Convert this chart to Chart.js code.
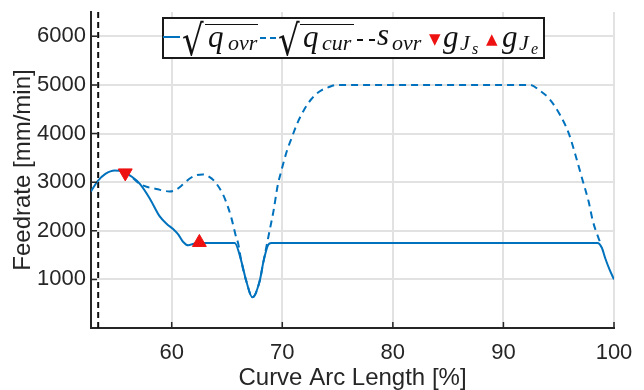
<!DOCTYPE html>
<html>
<head>
<meta charset="utf-8">
<title>Feedrate</title>
<script src="https://cdn.jsdelivr.net/npm/chart.js@4.4.1/dist/chart.umd.min.js"></script>
<style>
    body { margin: 0; background: #fff; }
    #wrap { position: relative; width: 644px; height: 390px; }
    #legend { position: absolute; left: 162px; top: 17px; width: 379px; height: 38px; border: 2px solid #1a1a1a; background: #fff; }
    #legend span, #legend div { position: absolute; }
    .m { font-family: "Liberation Serif", serif; font-style: italic; color: #111; line-height: 1; white-space: nowrap; }
    .big { font-size: 31px; }
    .sub { font-size: 22px; }
    .sub2 { font-size: 16px; }
    .rad { font-family: "DejaVu Sans", sans-serif; font-size: 34px; line-height: 1; color: #111; transform: scaleY(1.25); transform-origin: 50% 10%; }
    .bar { border-top: 1.5px solid #111; height: 0; }
    .tri { color: #ee1111; font-family: "DejaVu Sans", sans-serif; font-size: 15px; line-height: 1; }
</style>
</head>
<body>
<div id="wrap">
    <canvas id="grafica" width="644" height="390"></canvas>
    <div id="legend">
        <!-- offsets are relative to the box inner edge (x 164, y 19) -->
        <div style="left:-1px;top:17px;width:17px;border-top:2px solid #0072bd;"></div>
        <span class="rad" style="left:18px;top:1px;">√</span>
        <div class="bar" style="left:41px;top:5px;width:53px;"></div>
        <span class="m big" style="left:44px;top:2px;">q</span>
        <span class="m sub" style="left:64px;top:13px;">ovr</span>

        <div style="left:96px;top:18px;width:16px;border-top:2px dashed #0072bd;"></div>
        <span class="rad" style="left:114px;top:1px;">√</span>
        <div class="bar" style="left:136px;top:5px;width:54px;"></div>
        <span class="m big" style="left:139px;top:2px;">q</span>
        <span class="m sub" style="left:158px;top:13px;">cur</span>

        <div style="left:193px;top:20px;width:18px;border-top:2px dashed #111;"></div>
        <span class="m big" style="left:213px;top:0px;">s</span>
        <span class="m sub" style="left:228px;top:13px;">ovr</span>

        <span class="tri" style="left:265px;top:13px;">▼</span>
        <span class="m big" style="left:279px;top:2px;">g</span>
        <span class="m sub" style="left:296px;top:13px;">J</span>
        <span class="m sub2" style="left:308px;top:22px;">s</span>

        <span class="tri" style="left:322px;top:13px;">▲</span>
        <span class="m big" style="left:338px;top:2px;">g</span>
        <span class="m sub" style="left:355px;top:13px;">J</span>
        <span class="m sub2" style="left:367px;top:22px;">e</span>
    </div>
</div>

<script>
    // sqrt(q_ovr) - solid
    var ovrX = [52.7, 53.3, 54.0, 54.85, 55.6, 56.4, 57.1, 58.0, 58.9, 59.6, 60.1, 60.6, 61.0, 61.5, 62.0, 62.5,
                65.7, 66.3, 66.75, 67.3, 67.95, 68.3, 68.7, 69.0, 98.5, 98.9, 99.2, 99.6, 100];
    var ovrY = [2810, 3020, 3170, 3240, 3215, 3110, 2970, 2670, 2300, 2130, 2040, 1920, 1780, 1700, 1735, 1750,
                1750, 1370, 960, 630, 960, 1370, 1700, 1750, 1750, 1650, 1440, 1200, 1000];

    // sqrt(q_cur) - dashed
    var curX = [55.6, 56.4, 57.1, 57.8, 58.6, 59.8, 60.4, 61.0, 61.6, 62.2, 62.8, 63.4, 63.9, 64.65, 65.1, 65.4, 65.85, 66.0,
                66.3, 66.75, 67.3, 67.95, 68.3, 68.6, 68.9, 69.2, 69.6, 69.9, 70.4, 70.85, 71.3, 71.9, 72.6, 73.4, 74.15, 74.9,
                92.4, 93.3, 94.2, 95.1, 95.9, 96.5, 97.1, 97.7, 98.1, 98.6, 98.8];
    var curY = [3215, 3100, 2970, 2900, 2860, 2810, 2845, 2950, 3070, 3140, 3160, 3110, 3010, 2740, 2480, 2260, 1850, 1750,
                1370, 960, 630, 960, 1370, 1714, 2055, 2400, 2950, 3220, 3630, 3910, 4180, 4460, 4700, 4870, 4950, 5000,
                5000, 4883, 4700, 4390, 4010, 3570, 3085, 2605, 2190, 1850, 1740];

    // s_ovr - vertical dashed line
    var sovrX = [53.35, 53.35];
    var sovrY = [0, 6500];

    // g_Js / g_Je markers
    var gJs = [55.8, 3190];
    var gJe = [62.5, 1760];

    var xTicks = [60, 70, 80, 90, 100];
    var yTicks = [1000, 2000, 3000, 4000, 5000, 6000];

    var pts = (xs, ys) => xs.map((x, i) => ({x: x, y: ys[i]}));

    var ejeColor = '#262626';
    var gridColor = '#e2e2e2';

    var ticksInside = {
        id: 'ticksInside',
        afterDraw: (chart) => {
            var ctx = chart.ctx, a = chart.chartArea;
            var sx = chart.scales.x, sy = chart.scales.y;
            ctx.save();
            ctx.strokeStyle = ejeColor;
            ctx.lineWidth = 1.5;
            ctx.beginPath();
            xTicks.forEach((t) => {
                var px = sx.getPixelForValue(t);
                ctx.moveTo(px, a.bottom);
                ctx.lineTo(px, a.bottom - 6);
            });
            yTicks.forEach((t) => {
                var py = sy.getPixelForValue(t);
                ctx.moveTo(a.left, py);
                ctx.lineTo(a.left + 6, py);
            });
            ctx.stroke();
            ctx.restore();
        }
    };

    var contenedor = document.getElementById('grafica');
    var grafica = new Chart(contenedor, {
        type: 'line',
        data: {
            datasets: [{
                label: 'q_ovr',
                data: pts(ovrX, ovrY),
                borderColor: '#0072bd',
                borderWidth: 2,
                pointRadius: 0,
                cubicInterpolationMode: 'monotone',
                order: 2
            }, {
                label: 'q_cur',
                data: pts(curX, curY),
                borderColor: '#0072bd',
                borderWidth: 2,
                borderDash: [7, 5],
                pointRadius: 0,
                cubicInterpolationMode: 'monotone',
                order: 3
            }, {
                label: 's_ovr',
                data: pts(sovrX, sovrY),
                borderColor: '#111',
                borderWidth: 2,
                borderDash: [6, 4],
                pointRadius: 0,
                order: 4
            }, {
                label: 'gJs',
                data: [{x: gJs[0], y: gJs[1]}],
                showLine: false,
                pointStyle: 'triangle',
                rotation: 180,
                pointRadius: 8,
                backgroundColor: '#ee1111',
                borderColor: '#ee1111',
                order: 0
            }, {
                label: 'gJe',
                data: [{x: gJe[0], y: gJe[1]}],
                showLine: false,
                pointStyle: 'triangle',
                pointRadius: 8,
                backgroundColor: '#ee1111',
                borderColor: '#ee1111',
                order: 0
            }]
        },
        options: {
            responsive: false,
            animation: false,
            layout: { padding: { top: 12, right: 30, left: 8, bottom: 0 } },
            plugins: { legend: { display: false }, tooltip: { enabled: false } },
            scales: {
                x: {
                    type: 'linear',
                    min: 52.7,
                    max: 100,
                    afterBuildTicks: (s) => { s.ticks = xTicks.map((v) => ({value: v})); },
                    afterFit: (s) => { s.paddingLeft = 0; s.paddingRight = 0; s.height = 62; },
                    grid: { color: gridColor, lineWidth: 2, drawTicks: false },
                    border: { display: true, color: ejeColor, width: 2 },
                    ticks: { color: ejeColor, font: { family: 'Liberation Sans', size: 22, lineHeight: 1 }, padding: 14, maxRotation: 0, callback: (v) => String(v) },
                    title: { display: true, text: 'Curve Arc Length [%]', color: ejeColor, font: { family: 'Liberation Sans', size: 24, lineHeight: 1 }, padding: { top: 2, bottom: 0 } }
                },
                y: {
                    min: 0,
                    max: 6500,
                    afterBuildTicks: (s) => { s.ticks = yTicks.map((v) => ({value: v})); },
                    afterFit: (s) => { s.paddingTop = 0; s.paddingBottom = 0; s.width = 83; },
                    grid: { color: gridColor, lineWidth: 2, drawTicks: false },
                    border: { display: true, color: ejeColor, width: 2 },
                    ticks: { color: ejeColor, font: { family: 'Liberation Sans', size: 22 }, padding: 5, callback: (v) => String(v) },
                    title: { display: true, text: 'Feedrate [mm/min]', color: ejeColor, font: { family: 'Liberation Sans', size: 24, lineHeight: 1 }, padding: { top: 3, bottom: 2 } }
                }
            }
        },
        plugins: [ticksInside]
    });
</script>
</body>
</html>
